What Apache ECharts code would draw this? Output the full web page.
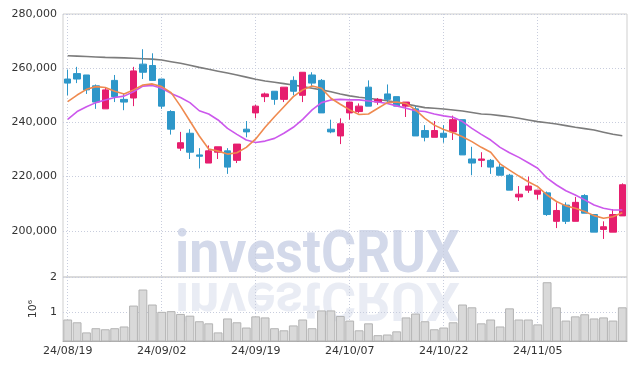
<!DOCTYPE html>
<html><head><meta charset="utf-8">
<script src="https://cdn.jsdelivr.net/npm/echarts@6/dist/echarts.min.js"></script>
<style>html,body{margin:0;padding:0;background:#fff}#c{width:637px;height:370px}</style>
</head><body><div id="c"></div>
<script>
const dates = ['24/08/19','24/08/20','24/08/21','24/08/22','24/08/23','24/08/26','24/08/27','24/08/28','24/08/29','24/08/30',
'24/09/02','24/09/03','24/09/04','24/09/05','24/09/06','24/09/09','24/09/10','24/09/11','24/09/12','24/09/13',
'24/09/19','24/09/20','24/09/23','24/09/24','24/09/25','24/09/26','24/09/27','24/09/30','24/10/02','24/10/04',
'24/10/07','24/10/08','24/10/10','24/10/11','24/10/14','24/10/15','24/10/16','24/10/17','24/10/18','24/10/21',
'24/10/22','24/10/23','24/10/24','24/10/25','24/10/28','24/10/29','24/10/30','24/10/31','24/11/01','24/11/04',
'24/11/05','24/11/06','24/11/07','24/11/08','24/11/11','24/11/12','24/11/13','24/11/14','24/11/15','24/11/18'];
const opens  = [256000,258000,257500,253500,245000,255500,248500,249000,261500,261000,
256000,244000,230500,236000,228000,225000,229000,229500,226000,237500,
243500,249500,251500,248500,255500,250000,257500,255500,237500,235000,
243500,244000,253000,247500,250500,249500,246000,245000,237000,234500,
236000,236500,241000,226500,226000,226000,223500,220500,212500,215000,
213500,214000,203500,209500,203500,213000,206000,200500,199500,205500];
const closes = [254500,256000,252000,247500,252000,249500,247500,259000,258500,255500,
246000,237500,232500,229000,227500,229500,231000,223500,232000,236500,
246000,250500,248500,253000,251500,258500,254500,243500,236500,239500,
247500,246000,246000,248500,248500,246000,247500,235000,234500,237000,
234500,241000,228000,225000,226500,223500,220500,215000,213500,216500,
215000,206000,207500,203500,210500,206500,199500,201500,206000,217000];
const lows   = [250000,254500,250500,245000,245000,247500,244500,246000,256000,255500,
245000,235500,229500,226500,223000,225000,226500,221000,225000,234500,
241500,247500,246500,247500,250000,247500,253000,243500,236000,232000,
241000,243500,246000,246500,247500,246000,242000,235000,233000,234500,
232500,233500,228000,220500,223500,221000,220500,215000,211000,214000,
211500,205500,201000,202500,203500,206500,199500,197000,199500,205500];
const highs  = [259500,260500,257500,254000,253000,257500,250500,260500,267000,265500,
256000,244500,236500,237500,230500,231500,231000,230500,232000,240500,
246500,251000,251500,253000,257000,258500,258500,256000,241000,241500,
247500,247000,255500,249000,254000,249500,247500,246000,239000,240500,
239000,242500,241000,231000,229000,226500,225000,221000,216500,220000,
215000,214500,210500,210500,212500,213500,206000,203500,208000,217500];
const ma5 = [247650,250100,252200,253200,252900,251500,250500,252000,253800,254200,
253200,251000,246000,240500,235000,230200,229400,228300,228800,230800,
233900,238200,242100,245800,249500,252000,253400,252600,248900,246700,
244600,242900,243100,245200,247300,247500,247000,244600,241500,239000,
237400,236200,234700,232900,230800,229000,224700,222400,220200,218100,
216300,213200,210800,209200,208300,207100,205600,204600,205200,206700];
const ma10 = [241100,244000,245800,247300,248300,249200,249700,251300,253400,253600,
252600,250700,249200,247300,244300,243100,240900,237800,235600,233500,
232600,233100,234100,236000,238200,241100,244600,247300,248300,248500,
248300,248300,247900,247500,247000,246100,245200,244300,244000,243100,
242400,241900,240300,237800,235600,233500,230800,228800,227100,225100,
223100,219400,216900,214800,213200,211400,209500,208300,207700,207700];
const maLong = [264600,264450,264300,264150,264000,263900,263800,263650,263500,263350,
263000,262400,261800,261100,260300,259600,258900,258200,257500,256700,
255900,255300,254800,254300,253800,253200,252600,252000,251300,250500,
249800,249300,248900,248450,248000,247400,246800,246100,245450,245200,
244950,244600,244200,243650,243100,242900,242500,242100,241500,240900,
240300,239850,239400,238800,238200,237700,237200,236400,235600,235100];
const volumes = [0.78,0.70,0.41,0.53,0.50,0.53,0.58,1.18,1.64,1.21,
1.00,1.02,0.94,0.89,0.73,0.67,0.41,0.81,0.70,0.55,
0.87,0.84,0.53,0.47,0.61,0.78,0.53,1.04,1.04,0.88,
0.75,0.47,0.67,0.33,0.35,0.44,0.84,0.95,0.73,0.50,
0.55,0.70,1.21,1.13,0.67,0.78,0.58,1.10,0.78,0.78,
0.64,1.85,1.13,0.75,0.87,0.93,0.81,0.84,0.75,1.13];
const volumeName = '10\u2076';
const watermark = 'investCRUX';

const candleData = dates.map((d,i)=>[opens[i],closes[i],lows[i],highs[i]]);
const fmt = v => v.toLocaleString('en-US');
const gridLineColor = '#c8cddd';
const labelFont = {fontFamily:'DejaVu Sans', fontSize:11, color:'#333'};

const chart = echarts.init(document.getElementById('c'), null, {renderer:'canvas'});
chart.setOption({
  animation:false,
  backgroundColor:'#fff',
  grid:[
    {left:63, right:10, top:14, height:263, show:true, borderColor:'#cfcfcf', borderWidth:1},
    {left:63, right:10, top:277, height:64, show:true, borderColor:'#cfcfcf', borderWidth:1}
  ],
  graphic:[
    {type:'text', x:175, y:257, scaleX:0.91, z:-1, silent:true,
     style:{text:watermark, font:'bold 59px Roboto', fill:'#d3d9ea', verticalAlign:'middle'}},
    {type:'text', x:175, y:296, scaleX:0.91, scaleY:-0.9, z:-1, silent:true,
     style:{text:watermark, font:'bold 59px Roboto', fill:'#d3d9ea', opacity:0.5, verticalAlign:'middle'}}
  ],
  xAxis:[
    {type:'category', gridIndex:0, data:dates, boundaryGap:true,
     axisLine:{show:false}, axisTick:{show:false}, axisLabel:{show:false},
     splitLine:{show:true, interval:9, alignWithLabel:true, lineStyle:{color:gridLineColor, type:[1,2]}}},
    {type:'category', gridIndex:1, data:dates, boundaryGap:true,
     axisLine:{show:true, lineStyle:{color:'#aaa'}}, axisTick:{show:false},
     axisLabel:Object.assign({interval:9, margin:5}, labelFont),
     splitLine:{show:true, interval:9, alignWithLabel:true, lineStyle:{color:gridLineColor, type:[1,2]}}}
  ],
  yAxis:[
    {type:'value', gridIndex:0, min:182952, max:280000, splitNumber:5,
     axisLine:{show:false}, axisTick:{show:false},
     axisLabel:Object.assign({margin:6, formatter:v => (v % 20000 === 0 ? fmt(v) : '')}, labelFont),
     splitLine:{show:true, lineStyle:{color:gridLineColor, type:[1,2]}}},
    {type:'value', gridIndex:1, min:0.163, max:2, splitNumber:2,
     axisLine:{show:false}, axisTick:{show:false},
     name:volumeName, nameLocation:'middle', nameRotate:90, nameGap:22,
     nameTextStyle:{fontFamily:'DejaVu Sans', fontSize:11, color:'#333'},
     axisLabel:Object.assign({margin:6, formatter:v => (Number.isInteger(v) ? String(v) : '')}, labelFont),
     splitLine:{show:true, lineStyle:{color:gridLineColor, type:[1,2]}}}
  ],
  series:[
    {type:'bar', xAxisIndex:1, yAxisIndex:1, data:volumes, barCategoryGap:'6%',
     itemStyle:{color:'#d9d9d9', borderColor:'#b3b3b3', borderWidth:1}},
    {type:'line', xAxisIndex:0, yAxisIndex:0, data:maLong, showSymbol:false, smooth:false,
     lineStyle:{color:'#7c7c7c', width:1.6}, z:3},
    {type:'candlestick', xAxisIndex:0, yAxisIndex:0, data:candleData, barWidth:7,
     itemStyle:{color:'#e61e6e', color0:'#2e97c9', borderColor:'#e61e6e', borderColor0:'#2e97c9', borderWidth:1}, z:4},
    {type:'line', xAxisIndex:0, yAxisIndex:0, data:ma10, showSymbol:false,
     lineStyle:{color:'#cc58ec', width:1.6}, z:5},
    {type:'line', xAxisIndex:0, yAxisIndex:0, data:ma5, showSymbol:false,
     lineStyle:{color:'#ef8a4f', width:1.6}, z:6}
  ]
});
</script></body></html>
